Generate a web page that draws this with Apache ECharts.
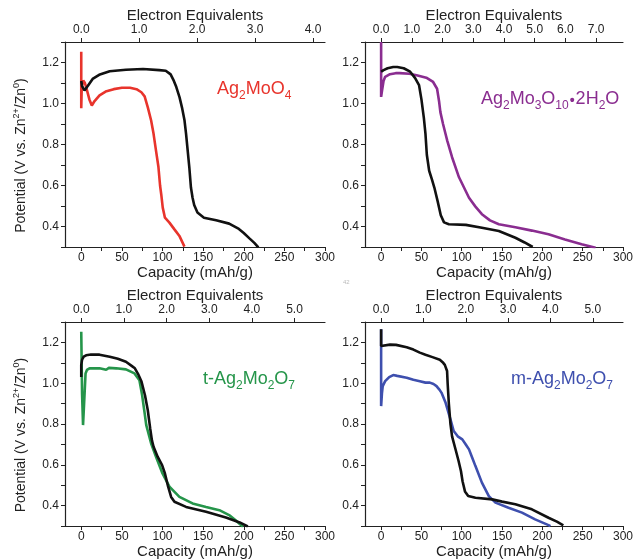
<!DOCTYPE html>
<html><head><meta charset="utf-8">
<script src="https://cdn.jsdelivr.net/npm/echarts@6/dist/echarts.min.js"></script>
<style>html,body{margin:0;padding:0;background:#fff}#c{width:636px;height:560px}</style>
</head><body><div id="c"></div>
<script>
// ---- axis ticks / labels ----
const capTicks = [0,25,50,75,100,125,150,175,200,225,250,275,300];
const capLabels = [0,50,100,150,200,250,300];
const potTicks = [0.3,0.4,0.5,0.6,0.7,0.8,0.9,1.0,1.1,1.2,1.3];
const potLabels = [0.4,0.6,0.8,1.0,1.2];
const eqLabelsTL = [0,1,2,3,4];
const eqLabelsTR = [0,1,2,3,4,5,6,7];
const eqLabelsBL = [0,1,2,3,4,5];
const eqLabelsBR = [0,1,2,3,4,5];
const mAhPerElectronTL = 71.3;
const mAhPerElectronTR = 38.1;
const mAhPerElectronBL = 52.5;
const mAhPerElectronBR = 52.5;

// ---- curves [capacity mAh/g, potential V] ----
const ag2moo4Black = [[0,1.11],[1,1.085],[4,1.064],[8,1.085],[14,1.12],[22,1.14],[35,1.157],[55,1.165],[76,1.168],[96,1.163],[104,1.16],[110,1.142],[114,1.11],[117,1.08],[121,1.03],[124,0.98],[127,0.92],[129,0.852],[131,0.77],[133,0.689],[135,0.59],[137,0.54],[139,0.505],[143,0.468],[151,0.443],[166,0.43],[182,0.414],[194,0.388],[200,0.368],[207,0.342],[213,0.32],[218,0.298]];
const ag2moo4Red = [[0,1.252],[0,0.977],[0.6,1.08],[2.5,1.112],[4.5,1.1],[7,1.065],[10,1.02],[13,0.99],[16.4,1.012],[22.5,1.04],[30,1.058],[40,1.07],[50,1.077],[60,1.077],[68,1.07],[74,1.055],[78,1.035],[82,0.98],[86,0.917],[89,0.852],[92,0.77],[95,0.69],[97,0.6],[98.5,0.555],[100.3,0.492],[103,0.443],[108.5,0.419],[114.7,0.386],[120.8,0.354],[127,0.302]];
const ag2mo3o10Black = [[0,1.155],[3,1.163],[8,1.172],[15,1.178],[20,1.178],[28,1.172],[36,1.155],[42,1.125],[47,1.09],[50,1.02],[53,0.93],[55,0.852],[56.7,0.75],[59.6,0.672],[63,0.63],[66,0.59],[70,0.525],[74,0.455],[78,0.42],[84,0.411],[105,0.408],[125,0.394],[146,0.378],[166.5,0.345],[178,0.322],[188,0.3]];
const ag2mo3o10Purple = [[0,1.3],[0,1.032],[1,1.06],[3,1.11],[5,1.13],[11,1.143],[18,1.148],[23,1.148],[35,1.145],[44,1.138],[56,1.126],[64.5,1.105],[69.4,1.072],[72,1.007],[73.5,0.958],[76.8,0.9],[80,0.85],[82,0.819],[88,0.738],[96.6,0.64],[109,0.54],[117,0.497],[125,0.46],[135,0.43],[146,0.411],[166.5,0.396],[187,0.38],[207.6,0.362],[228,0.337],[248.7,0.313],[266,0.296]];
const tAg2mo2o7Black = [[0,1.03],[0,1.09],[1,1.115],[3,1.13],[6,1.137],[12,1.141],[22.5,1.14],[35,1.13],[45,1.12],[55,1.105],[62,1.085],[66,1.073],[70,1.045],[74,1.01],[78.5,0.94],[81.8,0.87],[84.8,0.78],[87,0.72],[89,0.689],[94,0.64],[99.5,0.599],[103,0.558],[106.5,0.5],[110.6,0.443],[114.7,0.419],[129,0.394],[153.6,0.37],[178,0.342],[195,0.318],[205,0.298]];
const tAg2mo2o7Green = [[0,1.252],[1,0.95],[2.2,0.795],[3.5,0.9],[5.3,1.048],[7,1.065],[10.2,1.073],[22.5,1.073],[30.7,1.066],[32,1.07],[34,1.075],[36,1.07],[43,1.073],[55,1.068],[65.5,1.048],[71.6,1.015],[74.9,0.942],[77.8,0.86],[80,0.795],[82,0.765],[86,0.705],[92,0.64],[100,0.558],[108.5,0.493],[120.8,0.443],[137,0.411],[153.6,0.394],[170,0.378],[182,0.354],[190,0.329],[199,0.296]];
const mAg2mo2o7Black = [[0,1.264],[0,1.182],[2,1.19],[11,1.189],[18.5,1.188],[31.7,1.176],[40,1.165],[48,1.15],[55,1.14],[63.7,1.128],[72.8,1.115],[77,1.1],[79,1.09],[81.8,1.06],[82.5,1.0],[84,0.9],[86,0.8],[88,0.74],[92,0.68],[96,0.62],[99,0.57],[101,0.52],[104,0.47],[108,0.447],[117,0.439],[137.7,0.431],[150,0.42],[166.5,0.407],[187,0.382],[207.6,0.341],[218,0.322],[226,0.304]];
const mAg2mo2o7Blue = [[0,1.264],[0,0.888],[1,0.95],[2,0.986],[5,1.01],[10,1.03],[15,1.04],[20,1.036],[31.7,1.027],[40,1.017],[48,1.01],[55,1.003],[60.4,1.003],[65,0.996],[68.7,0.986],[72,0.97],[74.8,0.954],[80,0.904],[86,0.823],[90,0.766],[95,0.74],[100.7,0.725],[105,0.7],[109,0.676],[113,0.635],[117,0.594],[125,0.513],[133.6,0.447],[141.8,0.415],[158,0.39],[174.7,0.366],[191,0.333],[207.6,0.305],[210,0.3]];

const RED = '#e8342c', PURPLE = '#8a2d90', GREEN = '#25954a', BLUE = '#3e4fae', BLACK = '#111';
const AX = '#222';
const FONT = 'Liberation Sans';

const grids = [
  {left:65, top:42, width:260, height:205},
  {left:365, top:42, width:259, height:205},
  {left:65, top:322, width:260, height:205},
  {left:365, top:322, width:259, height:205}
];
const eqSets = [[eqLabelsTL,mAhPerElectronTL],[eqLabelsTR,mAhPerElectronTR],[eqLabelsBL,mAhPerElectronBL],[eqLabelsBR,mAhPerElectronBR]];

const xAxes = [], yAxes = [];
grids.forEach((g, i) => {
  xAxes.push({
    gridIndex:i, type:'value', position:'bottom', min:-20, max:300,
    axisLine:{show:true, onZero:false, lineStyle:{color:AX, width:1.2}},
    axisTick:{show:true, customValues:capTicks, length:4, lineStyle:{color:AX}},
    axisLabel:{customValues:capLabels, margin:5, fontSize:12, color:AX, fontFamily:FONT},
    splitLine:{show:false},
    name:'Capacity (mAh/g)', nameLocation:'middle', nameGap:16,
    nameTextStyle:{fontSize:15, color:AX, fontFamily:FONT}
  });
  const [eqs, k] = eqSets[i];
  xAxes.push({
    gridIndex:i, type:'value', position:'top', min:-20, max:300,
    axisLine:{show:true, onZero:false, lineStyle:{color:AX, width:1.2}},
    axisTick:{show:true, customValues:eqs.map(e => e*k), length:4, lineStyle:{color:AX}},
    axisLabel:{customValues:eqs.map(e => e*k), formatter:v => (v/k).toFixed(1), margin:6, fontSize:12, color:AX, fontFamily:FONT},
    splitLine:{show:false},
    name:'Electron Equivalents', nameLocation:'middle', nameGap:16,
    nameTextStyle:{fontSize:15, color:AX, fontFamily:FONT}
  });
  const y = {
    gridIndex:i, type:'value', min:0.3, max:1.3,
    axisLine:{show:true, onZero:false, lineStyle:{color:AX, width:1.2}},
    axisTick:{show:true, customValues:potTicks, length:4, lineStyle:{color:AX}},
    axisLabel:{customValues:potLabels, formatter:v => v.toFixed(1), margin:6, fontSize:12, color:AX, fontFamily:FONT},
    splitLine:{show:false}
  };
  if (i % 2 === 0) {
    y.name = '{n|Potential (V vs. Zn}{p|2+}{n|/Zn}{p|0}{n|)}';
    y.nameLocation = 'middle';
    y.nameGap = 37;
    y.nameRotate = 90;
    y.nameTextStyle = {color:AX, fontFamily:FONT, padding:[0,22,0,0], rich:{
      n:{fontSize:14, lineHeight:18, padding:[4,0,0,0], verticalAlign:'top', color:AX, fontFamily:FONT},
      p:{fontSize:9, lineHeight:10, padding:[2,0,0,0], verticalAlign:'top', color:AX, fontFamily:FONT}
    }};
  }
  yAxes.push(y);
});

function line(grid, data, color) {
  return {type:'line', xAxisIndex:grid*2, yAxisIndex:grid, data:data, showSymbol:false, symbol:'none',
    lineStyle:{color:color, width:2.6}, itemStyle:{color:color}, animation:false, clip:true};
}

function label(x, y, text, color) {
  const n = {fontSize:18, lineHeight:22, verticalAlign:'top', fill:color, fontFamily:FONT};
  const s = {fontSize:12, lineHeight:12, padding:[10,0,0,0], verticalAlign:'top', fill:color, fontFamily:FONT};
  const d = {fontSize:14, lineHeight:14, padding:[4,1,0,1], verticalAlign:'top', fill:color, fontFamily:FONT, fontWeight:'bold'};
  return {type:'text', x:x, y:y, style:{text:text, fill:color, fontFamily:FONT, rich:{n:n, s:s, d:d}}};
}

const chart = echarts.init(document.getElementById('c'), null, {renderer:'canvas'});
chart.setOption({
  animation:false,
  backgroundColor:'#fff',
  textStyle:{fontFamily:FONT},
  grid:grids,
  xAxis:xAxes,
  yAxis:yAxes,
  series:[
    line(0, ag2moo4Red, RED), line(0, ag2moo4Black, BLACK),
    line(1, ag2mo3o10Purple, PURPLE), line(1, ag2mo3o10Black, BLACK),
    line(2, tAg2mo2o7Green, GREEN), line(2, tAg2mo2o7Black, BLACK),
    line(3, mAg2mo2o7Blue, BLUE), line(3, mAg2mo2o7Black, BLACK)
  ],
  graphic:[
    label(217, 80, '{n|Ag}{s|2}{n|MoO}{s|4}', RED),
    label(481, 90, '{n|Ag}{s|2}{n|Mo}{s|3}{n|O}{s|10}{d|•}{n|2H}{s|2}{n|O}', PURPLE),
    label(203, 370, '{n|t-Ag}{s|2}{n|Mo}{s|2}{n|O}{s|7}', GREEN),
    label(511, 370, '{n|m-Ag}{s|2}{n|Mo}{s|2}{n|O}{s|7}', BLUE),
    {type:'text', x:343, y:279, style:{text:'42', fontSize:6, fill:'#bbb', fontFamily:FONT}}
  ]
});
</script></body></html>
